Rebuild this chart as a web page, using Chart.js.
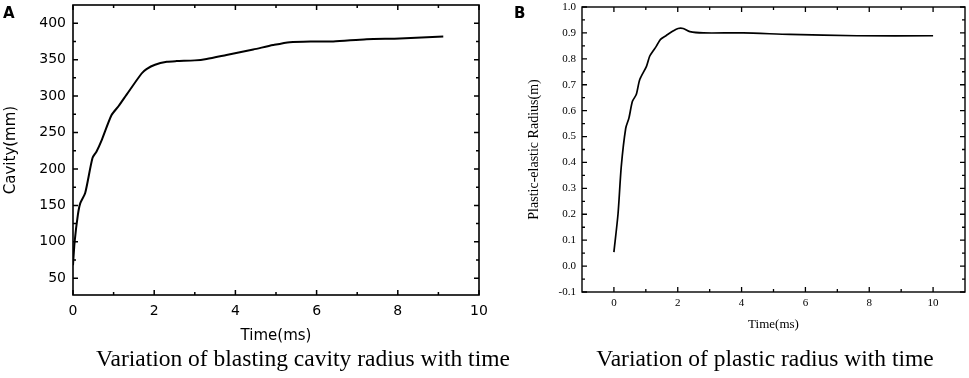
<!DOCTYPE html>
<html>
<head>
<meta charset="utf-8">
<script src="https://cdn.jsdelivr.net/npm/chart.js@4"></script>
<style>
  body { margin: 0; background: #fff; width: 969px; height: 378px; overflow: hidden; position: relative; }
  .panel { position: absolute; top: 0; }
  .tag { position: absolute; font: bold 15px "DejaVu Sans"; color: #000; }
  .caption { position: absolute; font: 23.5px "Liberation Serif"; color: #000; white-space: nowrap; transform: translateX(-50%); }
</style>
</head>
<body>
<div class="panel" style="left:0"><canvas id="chartA" width="490" height="350"></canvas></div>
<div class="panel" style="left:490px"><canvas id="chartB" width="479" height="340"></canvas></div>
<div class="tag" style="left:3px;top:4px">A</div>
<div class="tag" style="left:514px;top:4px">B</div>
<div class="caption" style="left:303px;top:345px">Variation of blasting cavity radius with time</div>
<div class="caption" style="left:765px;top:345px">Variation of plastic radius with time</div>
<script>
// panel A: cavity radius vs time
const timeA = [0, 0.04, 0.12, 0.18, 0.3, 0.48, 0.58, 0.71, 0.95, 1.12, 1.32, 1.69, 1.81, 2.02, 2.31, 2.55, 3.0, 3.29, 3.78, 4.44, 4.93, 5.34, 5.92, 6.41, 7.23, 8.05, 9.12]
const cavityA = [68, 100, 137, 153, 167, 215, 224, 240, 274, 286, 302, 331, 337, 343, 347, 348, 349, 351, 356.5, 364, 370, 374, 375, 375, 378, 379, 381.6]
const xTicksA = [0, 2, 4, 6, 8, 10]
const yTicksA = [50, 100, 150, 200, 250, 300, 350, 400]

// panel B: plastic-elastic radius vs time
const timeB = [0, 0.13, 0.23, 0.37, 0.47, 0.58, 0.70, 0.81, 1.02, 1.12, 1.22, 1.33, 1.46, 1.64, 1.85, 2.01, 2.17, 2.38, 2.8, 4.05, 5.51, 7.61, 10]
const radiusB = [0.054, 0.203, 0.384, 0.532, 0.571, 0.636, 0.662, 0.72, 0.771, 0.81, 0.829, 0.849, 0.875, 0.89, 0.907, 0.917, 0.917, 0.905, 0.9, 0.9, 0.894, 0.889, 0.889]
const xTicksB = [0, 2, 4, 6, 8, 10]
const yTicksB = [-0.1, 0, 0.1, 0.2, 0.3, 0.4, 0.5, 0.6, 0.7, 0.8, 0.9, 1.0]

// box round the plot with inward ticks on all four sides
const frameTicks = {
  id: 'frameTicks',
  afterDraw(chart, args, opts) {
    const {ctx, chartArea: a, scales: {x, y}} = chart
    ctx.save()
    ctx.strokeStyle = '#000'
    ctx.lineWidth = opts.width
    ctx.strokeRect(a.left, a.top, a.right - a.left, a.bottom - a.top)
    ctx.lineWidth = opts.tickWidth
    const mids = (vals, min, max) => {
      let out = []
      for (let i = 0; i < vals.length - 1; i++) out.push((vals[i] + vals[i + 1]) / 2)
      let step = vals[1] - vals[0]
      out.push(vals[0] - step / 2, vals[vals.length - 1] + step / 2)
      return out.filter(v => v > min && v < max)
    }
    const xv = x.ticks.map(t => t.value)
    const yv = y.ticks.map(t => t.value)
    const drawX = (v, len) => {
      let px = x.getPixelForValue(v)
      ctx.beginPath()
      ctx.moveTo(px, a.bottom); ctx.lineTo(px, a.bottom - len)
      ctx.moveTo(px, a.top); ctx.lineTo(px, a.top + len)
      ctx.stroke()
    }
    const drawY = (v, len) => {
      let py = y.getPixelForValue(v)
      ctx.beginPath()
      ctx.moveTo(a.left, py); ctx.lineTo(a.left + len, py)
      ctx.moveTo(a.right, py); ctx.lineTo(a.right - len, py)
      ctx.stroke()
    }
    xv.forEach(v => drawX(v, opts.major))
    mids(xv, x.min, x.max).forEach(v => drawX(v, opts.minor))
    yv.forEach(v => drawY(v, opts.major))
    mids(yv, y.min, y.max).forEach(v => drawY(v, opts.minor))
    ctx.restore()
  }
}

const makeChart = (id, cfg) => {
  let canvas = document.getElementById(id)
  return new Chart(canvas, {
    type: 'line',
    data: {
      datasets: [{
        data: cfg.xs.map((t, i) => ({x: t, y: cfg.ys[i]})),
        borderColor: '#000',
        borderWidth: cfg.lineWidth,
        pointRadius: 0,
        tension: 0.25,
        fill: false
      }]
    },
    options: {
      responsive: false,
      animation: false,
      devicePixelRatio: 1,
      layout: {padding: cfg.padding},
      plugins: {
        legend: {display: false},
        tooltip: {enabled: false},
        frameTicks: cfg.frame
      },
      scales: {
        x: {
          type: 'linear',
          min: cfg.xmin, max: cfg.xmax,
          afterBuildTicks: s => { s.ticks = cfg.xTicks.map(v => ({value: v})) },
          afterFit: s => { s.height = cfg.xHeight; s.paddingLeft = 0; s.paddingRight = 0 },
          grid: {display: false, drawTicks: false},
          border: {display: false},
          ticks: {color: '#000', font: cfg.tickFont, padding: cfg.xTickPad, maxRotation: 0},
          title: {display: true, text: 'Time(ms)', color: '#000', font: cfg.xTitleFont, padding: cfg.xTitlePad}
        },
        y: {
          min: cfg.ymin, max: cfg.ymax,
          afterBuildTicks: s => { s.ticks = cfg.yTicks.map(v => ({value: v})) },
          afterFit: s => { s.width = cfg.yWidth; s.paddingTop = 0; s.paddingBottom = 0 },
          grid: {display: false, drawTicks: false},
          border: {display: false},
          ticks: {color: '#000', font: cfg.tickFont, padding: cfg.yTickPad, callback: cfg.yFormat},
          title: {display: true, text: cfg.yTitle, color: '#000', font: cfg.yTitleFont, padding: cfg.yTitlePad}
        }
      }
    },
    plugins: [frameTicks]
  })
}

makeChart('chartA', {
  xs: timeA, ys: cavityA, xTicks: xTicksA, yTicks: yTicksA,
  xmin: 0, xmax: 10, ymin: 27, ymax: 425,
  lineWidth: 2,
  padding: {top: 5, right: 11, left: 0, bottom: 0},
  xHeight: 55, yWidth: 73,
  tickFont: {family: 'DejaVu Sans', size: 14},
  xTitleFont: {family: 'DejaVu Sans', size: 15},
  yTitleFont: {family: 'DejaVu Sans', size: 15},
  xTickPad: 8, yTickPad: 7,
  xTitlePad: {top: 0, bottom: 5},
  yTitlePad: {top: 2, bottom: 0},
  yTitle: 'Cavity(mm)',
  yFormat: v => v,
  frame: {width: 1.6, tickWidth: 1.5, major: 5, minor: 3}
})

makeChart('chartB', {
  xs: timeB, ys: radiusB, xTicks: xTicksB, yTicks: yTicksB,
  xmin: -1, xmax: 11, ymin: -0.1, ymax: 1.0,
  lineWidth: 1.7,
  padding: {top: 7, right: 4, left: 0, bottom: 0},
  xHeight: 48, yWidth: 92,
  tickFont: {family: 'Liberation Serif', size: 11},
  xTitleFont: {family: 'Liberation Serif', size: 13},
  yTitleFont: {family: 'Liberation Serif', size: 14},
  xTickPad: 5, yTickPad: 6,
  xTitlePad: {top: 0, bottom: 8},
  yTitlePad: {top: 36, bottom: 0},
  yTitle: 'Plastic-elastic Radius(m)',
  yFormat: v => v.toFixed(1),
  frame: {width: 1.4, tickWidth: 1.3, major: 5, minor: 3}
})
</script>
</body>
</html>
